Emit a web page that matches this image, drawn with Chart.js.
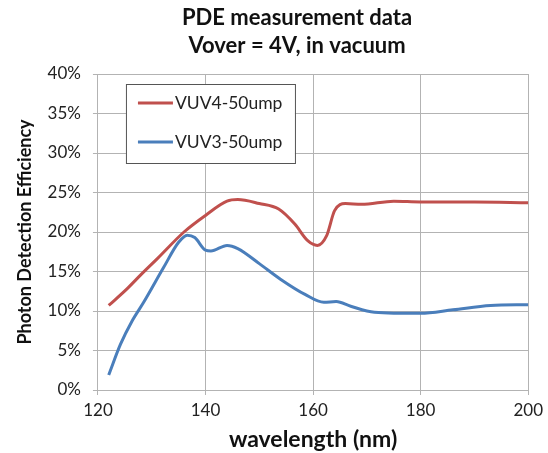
<!DOCTYPE html>
<html>
<head>
<meta charset="utf-8">
<script src="https://cdn.jsdelivr.net/npm/chart.js@4"></script>
<style>
  html, body { margin: 0; padding: 0; background: #fff; }
  #wrap { width: 548px; height: 453px; }
</style>
</head>
<body>
<div id="wrap"><canvas id="pde"></canvas></div>
<script>
  const vuv4Wavelength = [122, 125.4, 128, 131, 136, 140, 144, 146, 150, 153.6, 156.6, 159, 160.8, 162.5, 164, 166, 169, 175, 180, 190, 200];
  const vuv4Pde        = [10.7, 12.8, 14.6, 16.6, 20.0, 22.1, 23.9, 24.1, 23.6, 22.9, 21.0, 18.9, 18.3, 19.5, 22.7, 23.6, 23.5, 23.9, 23.8, 23.8, 23.7];

  const vuv3Wavelength = [122, 124.2, 126.4, 128.5, 132.2, 135, 136.6, 138, 140, 141, 144, 146, 150, 154, 158.5, 162, 164.3, 167, 171.4, 180, 186, 193, 200];
  const vuv3Pde        = [1.9, 5.8, 8.8, 11.1, 15.5, 18.7, 19.6, 19.3, 17.7, 17.6, 18.3, 17.9, 16.0, 14.0, 12.1, 11.1, 11.2, 10.6, 9.85, 9.7, 10.15, 10.7, 10.8];

  const seriesLabels = ['VUV4-50ump', 'VUV3-50ump'];
  const titleLines = ['PDE measurement data', 'Vover = 4V, in vacuum'];
  const xTicks = [120, 140, 160, 180, 200];

  const FONT = 'Lato, "Open Sans", sans-serif';
  const GRID = '#b3b3b3';

  function points(xs, ys) {
    return xs.map((x, i) => ({ x: x, y: ys[i] / 100 }));
  }

  // two-line title, sitting a bit left of the plot centre as in the original
  const topTitle = {
    id: 'topTitle',
    afterDraw(chart) {
      const { ctx, chartArea } = chart;
      const cx = (chartArea.left + chartArea.right) / 2 - 16;
      ctx.save();
      ctx.fillStyle = '#111';
      ctx.font = 'bold 22px ' + FONT;
      ctx.textAlign = 'center';
      ctx.textBaseline = 'alphabetic';
      titleLines.forEach((t, i) => ctx.fillText(t, cx, 25 + i * 28));
      ctx.restore();
    }
  };

  // legend box drawn inside the plot
  const boxLegend = {
    id: 'boxLegend',
    afterDraw(chart) {
      const { ctx, chartArea } = chart;
      const left = chartArea.left + 28;
      const top = chartArea.top + 10;
      const w = 169, h = 79;
      ctx.save();
      ctx.fillStyle = '#fff';
      ctx.fillRect(left, top, w, h);
      ctx.strokeStyle = '#555';
      ctx.lineWidth = 1;
      ctx.strokeRect(left + 0.5, top + 0.5, w, h);
      chart.data.datasets.forEach((ds, i) => {
        const y = top + 19 + i * 39;
        ctx.strokeStyle = ds.borderColor;
        ctx.lineWidth = 3;
        ctx.beginPath();
        ctx.moveTo(left + 12, y);
        ctx.lineTo(left + 47, y);
        ctx.stroke();
        ctx.fillStyle = '#222';
        ctx.font = '17.5px ' + FONT;
        ctx.textBaseline = 'middle';
        ctx.fillText(ds.label, left + 49, y);
      });
      ctx.restore();
    }
  };

  new Chart(document.getElementById('pde'), {
    type: 'line',
    data: {
      datasets: [
        {
          label: seriesLabels[0],
          data: points(vuv4Wavelength, vuv4Pde),
          borderColor: '#c0504d',
          borderWidth: 3,
          pointRadius: 0,
          cubicInterpolationMode: 'monotone'
        },
        {
          label: seriesLabels[1],
          data: points(vuv3Wavelength, vuv3Pde),
          borderColor: '#4a7ebb',
          borderWidth: 3,
          pointRadius: 0,
          cubicInterpolationMode: 'monotone'
        }
      ]
    },
    options: {
      responsive: true,
      maintainAspectRatio: false,
      animation: false,
      layout: { autoPadding: false, padding: { left: 14, right: 16, top: 74, bottom: 0 } },
      plugins: {
        legend: { display: false },
        tooltip: { enabled: false },
        title: { display: false }
      },
      scales: {
        x: {
          type: 'linear',
          min: 120,
          max: 200,
          afterBuildTicks: (axis) => { axis.ticks = xTicks.map(v => ({ value: v })); },
          grid: { color: GRID, tickLength: 5, drawTicks: true },
          border: { color: GRID },
          ticks: { color: '#222', font: { family: FONT, size: 17 }, padding: 5, maxRotation: 0 },
          title: {
            display: true,
            text: 'wavelength (nm)',
            color: '#111',
            font: { family: FONT, size: 23, weight: 'bold' },
            padding: { top: 0, bottom: 0 }
          }
        },
        y: {
          min: 0,
          max: 0.4,
          ticks: {
            stepSize: 0.05,
            color: '#222',
            font: { family: FONT, size: 17 },
            padding: 12,
            callback: (v) => Math.round(v * 100) + '%'
          },
          grid: { color: GRID, tickLength: 5 },
          border: { color: GRID },
          title: {
            display: true,
            text: 'Photon Detection Efficiency',
            color: '#111',
            font: { family: FONT, size: 18, weight: 'bold' },
            padding: { top: 0, bottom: 0 }
          }
        }
      }
    },
    plugins: [topTitle, boxLegend]
  });
</script>
</body>
</html>
